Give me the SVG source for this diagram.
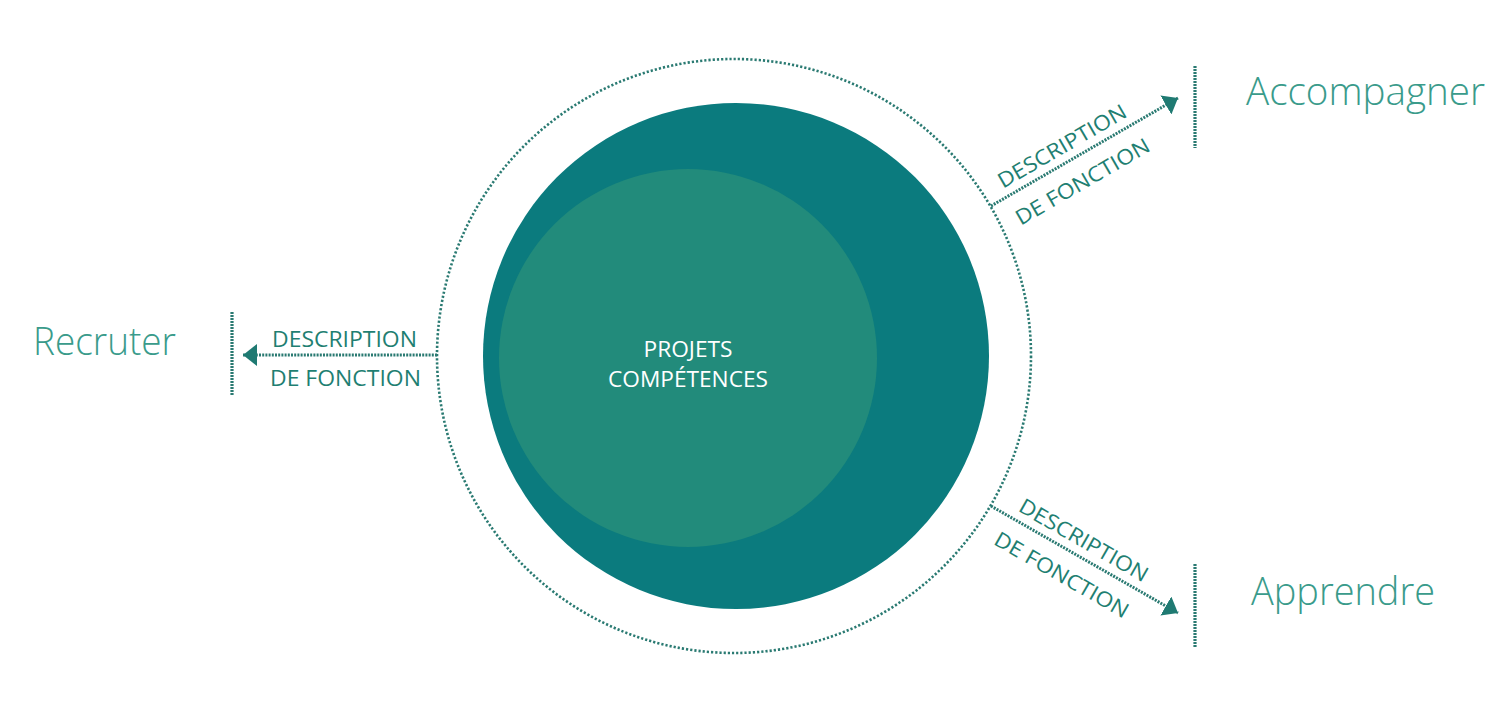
<svg xmlns="http://www.w3.org/2000/svg" width="1500" height="721" viewBox="0 0 1500 721">
  <style>
    .dot { fill: none; stroke: #2a7a72; stroke-width: 3; stroke-dasharray: 2 1.2; }
    .bar { fill: none; stroke: #2a7a72; stroke-width: 3.2; stroke-dasharray: 2 1; }
    .big { font-family: "Open Sans", "Liberation Sans", sans-serif; font-weight: 300; font-size: 38px; fill: #3a9b8b; }
    .lbl { font-family: "Open Sans", "Liberation Sans", sans-serif; font-weight: 400; font-size: 21px; fill: #1f7f72; }
    .ctr { font-family: "Open Sans", "Liberation Sans", sans-serif; font-weight: 400; font-size: 21px; fill: #ffffff; text-anchor: middle; }
  </style>
  <defs>
    <marker id="arr" markerUnits="userSpaceOnUse" markerWidth="16" markerHeight="22" refX="14" refY="11" orient="auto">
      <path d="M0,0 L14,11 L0,22 Z" fill="#1f7a72"/>
    </marker>
  </defs>
  <rect width="1500" height="721" fill="#ffffff"/>

  <g id="center">
    <circle cx="734" cy="356" r="297" fill="none" stroke="#2a7a72" stroke-width="2.6" stroke-dasharray="2.2 2"/>
    <circle cx="736" cy="356" r="253" fill="#0b7b7e"/>
    <circle cx="688" cy="358" r="189" fill="#228b7b"/>
    <text class="ctr" x="688" y="357" textLength="89" lengthAdjust="spacingAndGlyphs">PROJETS</text>
    <text class="ctr" x="688" y="387" textLength="160" lengthAdjust="spacingAndGlyphs">COMPÉTENCES</text>
  </g>

  <g id="recruter">
    <line class="bar" x1="232" y1="312" x2="232" y2="395"/>
    <text class="big" x="33" y="355" textLength="143" lengthAdjust="spacingAndGlyphs">Recruter</text>
  </g>

  <g id="accompagner">
    <line class="bar" x1="1195" y1="66" x2="1195" y2="148"/>
    <text class="big" x="1246" y="105" textLength="239" lengthAdjust="spacingAndGlyphs">Accompagner</text>
  </g>

  <g id="apprendre">
    <line class="bar" x1="1195" y1="564" x2="1195" y2="647"/>
    <text class="big" x="1251" y="605" textLength="184" lengthAdjust="spacingAndGlyphs">Apprendre</text>
  </g>

  <g id="connectors">
    <line class="dot" x1="437" y1="355" x2="243" y2="355" marker-end="url(#arr)"/>
    <line class="dot" x1="991" y1="206" x2="1178" y2="98" marker-end="url(#arr)"/>
    <line class="dot" x1="991" y1="506" x2="1178" y2="613" marker-end="url(#arr)"/>
  </g>

  <g id="label-left">
    <text class="lbl" x="272" y="347" textLength="145" lengthAdjust="spacingAndGlyphs">DESCRIPTION</text>
    <text class="lbl" x="270" y="386" textLength="151" lengthAdjust="spacingAndGlyphs">DE FONCTION</text>
  </g>

  <g id="label-upper" transform="translate(991,206) rotate(-30)">
    <text class="lbl" x="19" y="-9" textLength="145" lengthAdjust="spacingAndGlyphs">DESCRIPTION</text>
    <text class="lbl" x="16" y="32" textLength="151" lengthAdjust="spacingAndGlyphs">DE FONCTION</text>
  </g>

  <g id="label-lower" transform="translate(991,506) rotate(29.8)">
    <text class="lbl" x="25" y="-9" textLength="145" lengthAdjust="spacingAndGlyphs">DESCRIPTION</text>
    <text class="lbl" x="20" y="32" textLength="151" lengthAdjust="spacingAndGlyphs">DE FONCTION</text>
  </g>
</svg>
